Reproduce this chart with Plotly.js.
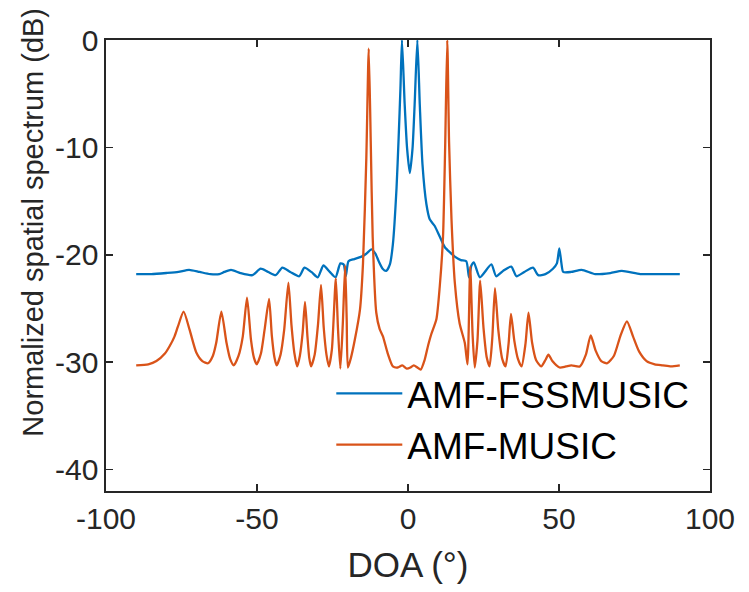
<!DOCTYPE html>
<html>
<head>
<meta charset="utf-8">
<script src="https://cdn.plot.ly/plotly-3.0.1.min.js"></script>
<style>
  body { margin: 0; background: #fff; }
  #graph { width: 749px; height: 592px; }
</style>
</head>
<body>
<div id="graph"></div>
<script>
//DOA grid for the AMF-FSSMUSIC curve (degrees)
const fssDoa = [-90, -85, -80, -76, -72.5, -69, -65.5, -62.5, -60.8, -58.6, -55.5, -51.5, -48.8, -46.3,
  -43.8, -41.6, -39, -36, -34.3, -32, -29.9, -28, -25.9, -24, -22.4, -21.3, -20.6, -19.7, -17.8,
  -15.6, -13.8, -12.1, -10.8, -9.7, -8.4, -7.2, -6, -5, -3.8, -3.1, -2.5, -2, -1.1, -0.3, 0.6, 1.5,
  2.2, 3.1, 3.9, 4.8, 6.1, 7.2, 8.8, 10.5, 12.2, 14, 15.6, 17.5, 19.3, 20.2, 21, 21.8, 23.8, 27.6,
  29.2, 31.5, 34.2, 35.9, 38.5, 41.4, 43.1, 45.5, 48, 49.3, 50.1, 50.8, 51.4, 54, 57.5, 62, 67,
  70.8, 76.9, 82, 90]
//AMF-FSSMUSIC spectrum (dB)
const fssDb = [-21.8, -21.8, -21.7, -21.6, -21.4, -21.6, -21.8, -21.8, -21.6, -21.4, -21.7, -21.9, -21.3, -21.6,
  -21.9, -21.2, -21.6, -22.0, -21.2, -21.6, -22.1, -21.0, -21.6, -22.1, -20.8, -20.9, -22.0, -20.6, -20.4,
  -20.2, -19.9, -19.5, -19.9, -20.6, -21.3, -21.5, -20.9, -19.0, -13.8, -9.1, -4.5, 0, -6.0, -10.1, -12.4, -10.1,
  -6.0, 0, -6.0, -11.6, -15.3, -16.7, -17.3, -18.3, -19.3, -19.8, -20.2, -20.5, -20.6, -22.1, -21.0, -20.7, -22.1, -20.9,
  -22.0, -21.5, -21.1, -22.0, -21.6, -21.2, -21.9, -21.8, -21.3, -20.8, -19.4, -20.8, -21.6, -21.6, -21.4, -21.8, -21.7,
  -21.5, -21.8, -21.8, -21.8]

//DOA grid for the AMF-MUSIC curve (degrees)
const musicDoa = [-90, -86, -83.3, -80.5, -78.9, -77.3, -76.2, -74.3, -72.3, -70.1, -68.1, -66.2, -64.6, -63.5,
  -61.8, -60.1, -58.9, -57.7, -56.1, -54.7, -53.3, -52, -51, -50.1, -48.7, -47.5, -46, -45.1, -44.2, -43.5,
  -42.2, -41, -39.6, -38.6, -37.6, -36.7, -35.8, -34.9, -34.1, -33.3, -32.7, -32.1, -30.9, -29.8, -28.8,
  -27.9, -27, -26.2, -25.2, -23.9, -23.2, -22.4, -21.6, -20.8, -20.3, -19.9, -18.9, -17.6, -15.9, -14.9,
  -13.8, -13, -12.3, -11.7, -10.5, -9.4, -8.3, -6.7, -5, -3.4, -1.9, -0.4, 0.8, 1.9, 3.1, 4.2, 5.5, 6.7,
  7.7, 9.4, 10.5, 11.6, 12.3, 13, 13.6, 14.4, 15.5, 17.1, 18.8, 19.7, 20.6, 21.4, 22.1, 23, 23.9, 25,
  26.1, 27, 27.9, 28.8, 29.9, 31.2, 32.3, 33.3, 34.1, 35.2, 36.4, 37.6, 38.9, 39.9, 41.1, 42.4, 44.1,
  45.5, 46.5, 47.8, 50.2, 52.3, 54.1, 56.9, 58.9, 60.5, 62.1, 64, 66, 68.2, 70.4, 72.5, 74.5, 76.5,
  79, 81.7, 84.4, 87.1, 90]
//AMF-MUSIC spectrum (dB)
const musicDb = [-30.3, -30.2, -29.9, -29.2, -28.5, -27.6, -26.7, -25.3, -27.0, -29.1, -29.9, -30.1, -29.4, -28.2,
  -25.3, -28.2, -29.7, -30.3, -29.4, -27.6, -24.0, -27.9, -29.6, -30.2, -29.2, -27.0, -24.1, -27.5, -29.6, -30.3,
  -29.3, -27.0, -22.6, -26.5, -29.2, -30.4, -29.4, -27.3, -24.4, -27.6, -29.6, -30.4, -29.3, -26.5, -22.8,
  -26.8, -29.3, -30.4, -28.8, -22.2, -26.8, -30.6, -26.5, -21.0, -26.0, -30.5, -29.6, -27.9, -25.1, -20.8,
  -11.0, -0.8, -10.0, -18.3, -25.4, -26.9, -27.6, -29.2, -30.4, -30.5, -30.3, -30.6, -30.5, -30.3, -30.5, -30.7, -29.8, -28.4,
  -27.4, -26.0, -23.0, -18.3, -10.0, 0, -9.5, -16.7, -22.6, -26.4, -28.2, -30.2, -21.1, -27.5, -30.5, -28.0, -22.4, -26.8,
  -29.6, -30.4, -27.8, -23.1, -27.0, -29.7, -30.4, -28.3, -25.5, -28.0, -29.7, -30.4, -28.3, -25.4, -28.2, -29.8, -30.4,
  -29.8, -29.3, -29.9, -30.5, -30.4, -30.3, -30.4, -29.3, -27.5, -28.9, -29.9, -30.1, -29.4, -27.5, -26.2, -27.6, -29.0,
  -29.9, -30.2, -30.3, -30.4, -30.3]

//tick values and labels (plain hyphen, like the matlab figure)
const xTicks = [-100, -50, 0, 50, 100]
const xTickLabels = ['-100', '-50', '0', '50', '100']
const yTicks = [-40, -30, -20, -10, 0]
const yTickLabels = ['-40', '-30', '-20', '-10', '0']

const axisColor = '#262626'
const fontFamily = '"Liberation Sans", Arial, sans-serif'

//one trace per method, own legend group so the gap between entries can be set
const fssTrace = {
  x: fssDoa,
  y: fssDb,
  type: 'scatter',
  mode: 'lines',
  name: 'AMF-FSSMUSIC',
  legendgroup: 'fss',
  line: {color: '#0072BD', width: 2.3, shape: 'spline', smoothing: 0.6}
}
const musicTrace = {
  x: musicDoa,
  y: musicDb,
  type: 'scatter',
  mode: 'lines',
  name: 'AMF-MUSIC',
  legendgroup: 'music',
  line: {color: '#D95319', width: 2.3, shape: 'spline', smoothing: 0.6}
}

//shared axis style, matlab look: boxed, ticks inside
const axisStyle = {
  showgrid: false,
  zeroline: false,
  showline: true,
  linecolor: axisColor,
  linewidth: 1.6,
  mirror: 'ticks',
  ticks: 'inside',
  ticklen: 7,
  tickwidth: 1.6,
  tickcolor: axisColor,
  tickfont: {family: fontFamily, size: 30, color: axisColor}
}

const layout = {
  width: 749,
  height: 592,
  margin: {l: 106, r: 39, t: 40, b: 101, pad: 0},
  paper_bgcolor: '#ffffff',
  plot_bgcolor: '#ffffff',
  font: {family: fontFamily, color: axisColor},
  showlegend: true,
  legend: {
    x: 0.373,
    y: 0.284,
    xanchor: 'left',
    yanchor: 'top',
    bgcolor: 'rgba(0,0,0,0)',
    borderwidth: 0,
    itemwidth: 66,
    tracegroupgap: 0,
    font: {family: fontFamily, size: 37, color: '#000000'}
  },
  xaxis: {
    ...axisStyle,
    range: [-100, 100],
    tickvals: xTicks,
    ticktext: xTickLabels,
    title: {
      text: 'DOA (°)',
      font: {family: fontFamily, size: 35, color: axisColor},
      standoff: 19
    }
  },
  yaxis: {
    ...axisStyle,
    range: [-42, 0],
    tickvals: yTicks,
    ticktext: yTickLabels
  },
  //y label sits a bit above the axis centre in the figure, so it is placed by hand
  annotations: [{
    text: 'Normalized spatial spectrum (dB)',
    textangle: -90,
    xref: 'paper',
    yref: 'paper',
    x: -0.121,
    y: 0.597,
    xanchor: 'center',
    yanchor: 'middle',
    showarrow: false,
    font: {family: fontFamily, size: 29, color: axisColor}
  }]
}

const config = {displayModeBar: false, staticPlot: true}

Plotly.newPlot(document.getElementById('graph'), [fssTrace, musicTrace], layout, config)
</script>
</body>
</html>
